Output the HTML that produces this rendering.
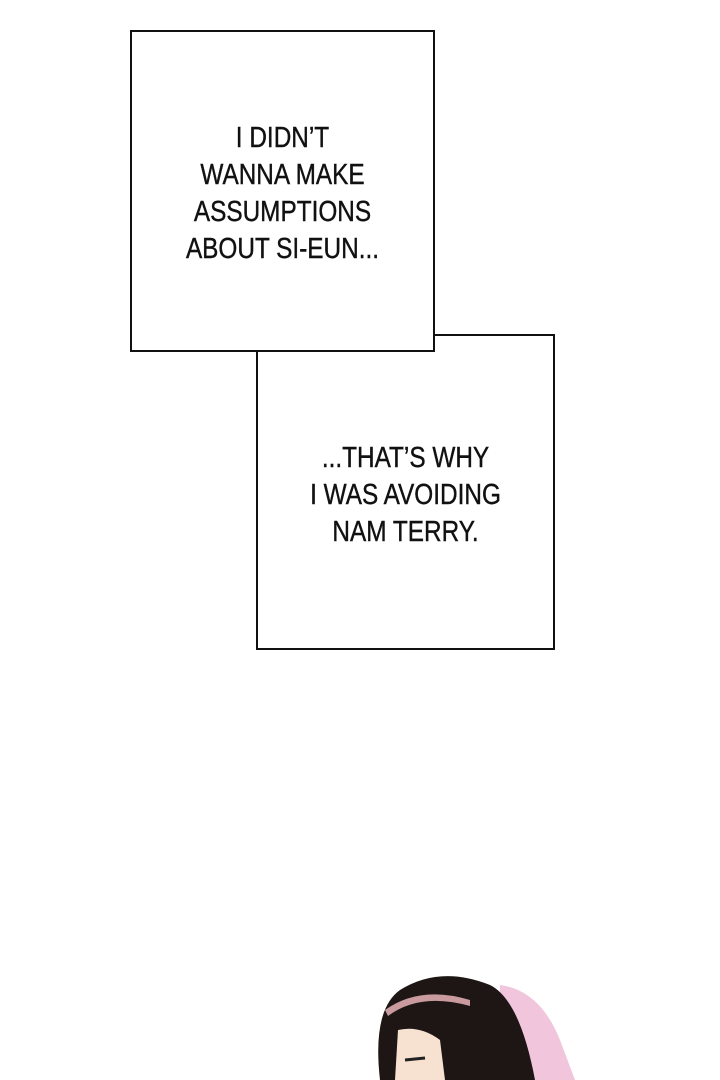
<!DOCTYPE html>
<html><head><style>
body{margin:0;width:720px;height:1080px;background:#fff;position:relative;overflow:hidden;font-family:"Liberation Sans Narrow","Liberation Sans",sans-serif;}
.box{position:absolute;background:#fff;border:2px solid #111;box-sizing:border-box;}
.t{position:absolute;left:0;right:0;text-align:center;font-size:29px;line-height:37px;color:#111;transform:scaleX(0.84);-webkit-text-stroke:0.4px #111;}
</style></head><body>
<div class="box" style="left:256px;top:334px;width:299px;height:316px;">
<div class="t" style="top:104px;">...THAT’S WHY<br>I WAS AVOIDING<br>NAM TERRY.</div></div>
<div class="box" style="left:130px;top:30px;width:305px;height:322px;">
<div class="t" style="top:88px;">I DIDN’T<br>WANNA MAKE<br>ASSUMPTIONS<br>ABOUT SI-EUN...</div></div>
<svg style="position:absolute;left:0;top:0" width="720" height="1080">
<path d="M500 985 Q540 990 560 1040 L575 1080 L500 1080Z" fill="#f1c6dc"/>
<path d="M380 1080 Q372 1010 400 990 Q440 965 490 985 Q520 1000 535 1080Z" fill="#1e1614"/>
<path d="M385 1010 Q420 985 470 1000 L470 1006 Q420 992 388 1016Z" fill="#c99a9e"/>
<path d="M395 1080 L398 1030 Q420 1025 440 1040 L445 1080Z" fill="#f7e2d2"/>
<path d="M405 1060 L425 1058" stroke="#222" stroke-width="3"/>
</svg>
</body></html>
